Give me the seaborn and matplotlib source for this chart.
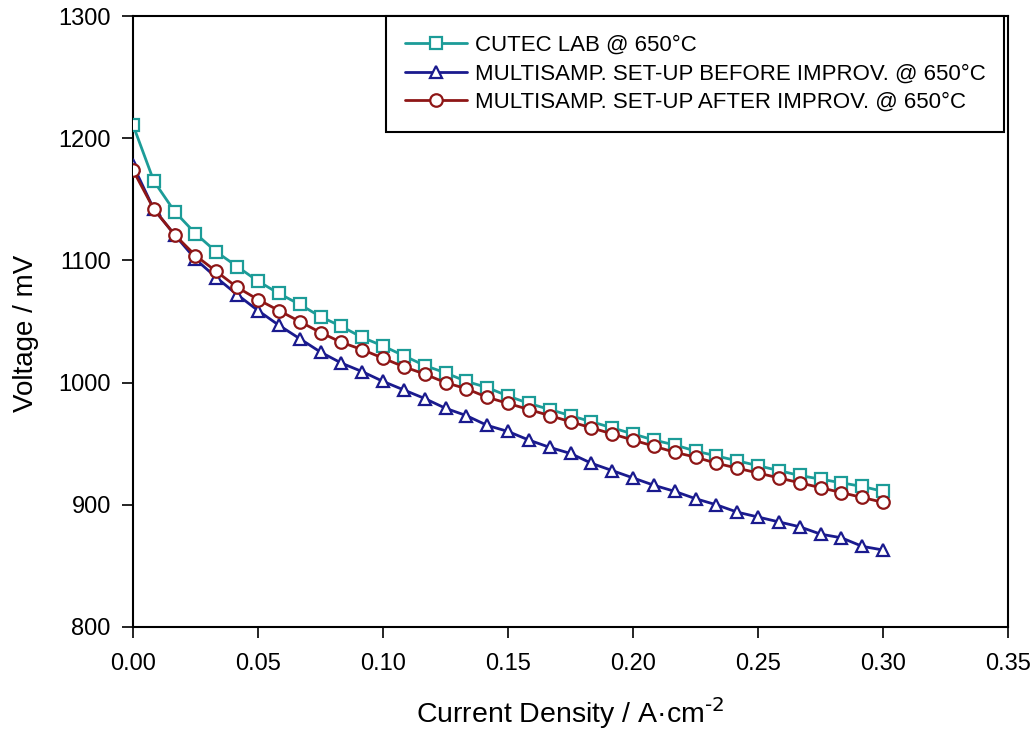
import numpy as np
import pandas as pd
import seaborn as sns
import matplotlib
matplotlib.use("Agg")
import matplotlib.pyplot as plt

current_density = [round(i * 0.3 / 36, 5) for i in range(37)]

cutec_lab = [1211, 1165, 1140, 1122, 1107, 1095, 1083, 1073, 1064, 1054,
             1046, 1037, 1030, 1022, 1014, 1008, 1001, 996, 989, 983,
             978, 973, 968, 963, 958, 953, 949, 944, 940, 936,
             932, 928, 924, 921, 918, 915, 911]
before_improv = [1178, 1142, 1121, 1101, 1086, 1072, 1059, 1047, 1036, 1025,
                 1016, 1009, 1001, 994, 987, 979, 973, 965, 960, 953,
                 947, 942, 934, 928, 922, 916, 911, 905, 900, 894,
                 890, 886, 882, 876, 873, 866, 863]
after_improv = [1174, 1142, 1121, 1104, 1091, 1078, 1068, 1059, 1050, 1041,
                1033, 1027, 1020, 1013, 1007, 1000, 995, 988, 983, 978,
                973, 968, 963, 958, 953, 948, 943, 939, 934, 930,
                926, 922, 918, 914, 910, 906, 902]

series_names = ["CUTEC LAB @ 650°C",
                "MULTISAMP. SET-UP BEFORE IMPROV. @ 650°C",
                "MULTISAMP. SET-UP AFTER IMPROV. @ 650°C"]
colors = ["#1c9c98", "#1a1a8e", "#8e1616"]
markers = ["s", "^", "o"]

sns.set_theme(style="white")
plt.rcParams['font.family'] = ['Liberation Sans', 'DejaVu Sans']
plt.rcParams['mathtext.default'] = 'regular'
plt.rcParams['text.color'] = 'black'
plt.rcParams['axes.labelcolor'] = 'black'

fig = plt.figure(figsize=(10.34, 7.3), dpi=100)
ax = fig.add_axes([0.1286, 0.1411, 0.975 - 0.1286, 0.978 - 0.1411])

for name, vals, c, m in zip(series_names, [cutec_lab, before_improv, after_improv], colors, markers):
    df = pd.DataFrame({"x": current_density, "y": vals})
    sns.lineplot(data=df, x="x", y="y", ax=ax, color=c, marker=m, markersize=9,
                 markerfacecolor="white", markeredgecolor=c, markeredgewidth=1.6,
                 linewidth=2, label=name, zorder=3)

ax.set_xlim(0, 0.35)
ax.set_ylim(800, 1300)
ax.set_xticks(np.arange(0, 0.351, 0.05))
ax.set_xticklabels([f"{v:.2f}" for v in np.arange(0, 0.351, 0.05)])
ax.set_yticks(np.arange(800, 1301, 100))

for s in ax.spines.values():
    s.set_color("black")
    s.set_linewidth(1.5)

ax.tick_params(axis="both", which="both", direction="out", length=8, width=1.2,
               colors="black", labelsize=17, bottom=True, left=True, top=False, right=False, pad=8)
ax.tick_params(axis="x", pad=11)

ax.set_xlabel("Current Density / A·cm$^{\\text{-2}}$", fontsize=20.5)
ax.set_ylabel("Voltage / mV", fontsize=20)
ax.xaxis.set_label_coords(0.5, -0.112)
ax.yaxis.set_label_coords(-0.107, 0.48)

leg = ax.legend(loc="upper right", bbox_to_anchor=(0.9955, 1.0), fontsize=16,
                frameon=True, fancybox=False, edgecolor="black", framealpha=1,
                handlelength=2.8, borderpad=0.85, labelspacing=0.33, handletextpad=0.35,
                borderaxespad=0)
leg.get_frame().set_linewidth(1.5)

fig.savefig("out.png", dpi=100)
